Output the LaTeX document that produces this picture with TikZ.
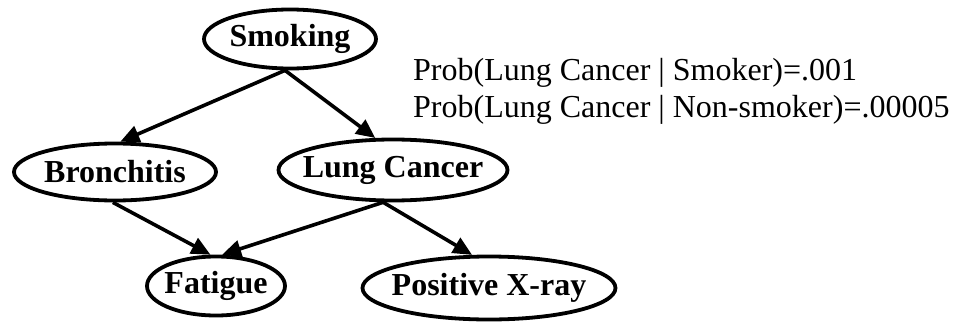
\documentclass[tikz,border=0pt]{standalone}
\usepackage{fontspec}
\setmainfont{Liberation Serif}
\usetikzlibrary{shapes.geometric,arrows.meta}
\begin{document}
\begin{tikzpicture}[x=1pt,y=-1pt,
  var/.style={ellipse,draw,line width=3.8pt,inner xsep=-12pt,inner ysep=0pt,
    font=\fontsize{32}{36}\selectfont\bfseries},
  edge/.style={line width=3.6pt,-{Triangle[length=19pt,width=17pt]}},
  probtext/.style={anchor=base west,inner sep=0pt,font=\fontsize{32}{37}\selectfont}]
\useasboundingbox (0,0) rectangle (953,324);
\node[var,minimum width=172pt,minimum height=59pt] (smoking) at (290,39) {Smoking};
\node[var,minimum width=202pt,minimum height=57pt] (bron) at (115,172) {Bronchitis};
\node[var,minimum width=229pt,minimum height=61pt] (lung) at (393,170) {Lung Cancer};
\node[var,minimum width=138pt,minimum height=59pt] (fat) at (216,286) {Fatigue};
\node[var,minimum width=253pt,minimum height=63pt] (xray) at (489,288) {Positive X-ray};
\node[probtext] (p1) at (413,80) {Prob(Lung Cancer | Smoker)=.001};
\node[probtext] (p2) at (413,117) {Prob(Lung Cancer | Non-smoker)=.00005};
\draw[edge] (smoking.261) -- (bron.80);
\draw[edge] (smoking.261) -- (lung.119);
\draw[edge] (bron.266) -- (fat.100);
\draw[edge] (lung.253) -- (fat.79);
\draw[edge] (lung.253) -- (xray.117);
\end{tikzpicture}
\end{document}
